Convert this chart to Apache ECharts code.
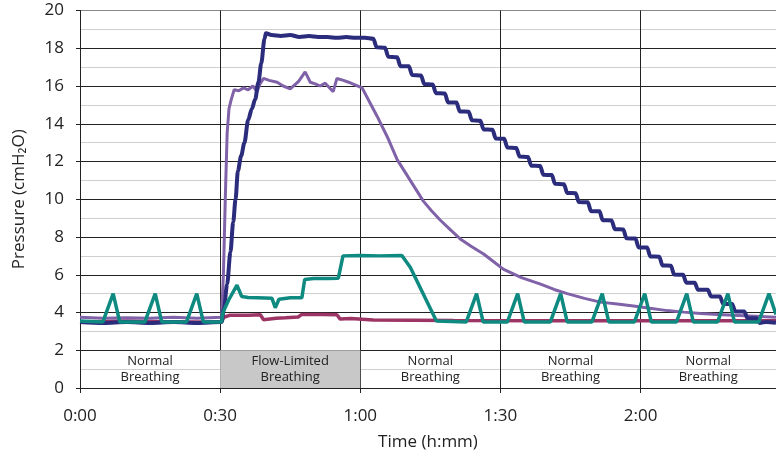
<!DOCTYPE html>
<html>
<head>
<meta charset="utf-8">
<script src="https://cdn.jsdelivr.net/npm/echarts@6/dist/echarts.min.js"></script>
<style>
html,body{margin:0;padding:0;background:#fff;}
#chart{width:776px;height:458px;}
</style>
</head>
<body>
<div id="chart"></div>
<script>
// Time in minutes, pressure in cmH2O
const navyPressure = [
  [0,3.5],[5,3.45],[10,3.5],[15,3.45],[20,3.5],[25,3.45],[30.3,3.5],
  [30.8,4.2],[31.5,5.5],[32.2,7.2],[32.8,8.8],[33.3,10.0],[33.8,11.5],[34.5,12.3],[35.2,13.0],
  [36,14.2],[36.8,14.8],[37.5,15.3],[38.2,16.2],[38.8,17.2],[39.5,18.5],[39.8,18.8],
  [41,18.7],[43,18.65],[45,18.7],[47,18.6],[49,18.65],[51,18.6],[53,18.6],[55,18.55],[57,18.6],[59,18.55],[61,18.55],
  [62.8,18.5],[63.5,18.05],[65.3,18.02],[66.0,17.55],[67.9,17.52],[68.6,17.05],[70.4,17.05],[71.1,16.58],
  [73.0,16.56],[73.7,16.10],[75.5,16.08],[76.2,15.62],[78.1,15.60],[78.8,15.13],[80.6,15.12],[81.3,14.65],
  [83.2,14.64],[83.9,14.18],[85.7,14.16],[86.4,13.70],[88.3,13.68],[89.0,13.22],[90.8,13.20],[91.5,12.74],
  [93.4,12.72],[94.1,12.26],[95.9,12.24],[96.6,11.78],[98.5,11.76],[99.2,11.30],[101.0,11.28],[101.7,10.82],
  [103.6,10.80],[104.3,10.33],[106.1,10.32],[106.8,9.85],[108.7,9.84],[109.4,9.37],[111.2,9.36],[111.9,8.89],
  [113.8,8.88],[114.5,8.41],[116.3,8.40],[117.0,7.93],[118.9,7.92],[119.6,7.45],[121.4,7.44],[122.1,6.97],
  [124.0,6.96],[124.7,6.49],[126.5,6.48],[127.2,6.01],[129.1,6.00],[129.8,5.58],[131.6,5.58],[132.3,5.20],
  [134.4,5.20],[135.1,4.85],[137.0,4.85],[137.7,4.45],[139.6,4.45],[140.3,4.05],[142.2,4.05],[142.9,3.70],
  [144.8,3.70],[145.5,3.45],[147,3.5],[149,3.45]
];
const purplePressure = [
  [0,3.75],[5,3.7],[10,3.72],[15,3.7],[20,3.75],[25,3.7],[30.3,3.75],[30.7,6],[31.1,10],[31.5,13.5],[31.9,14.8],
  [32.4,15.3],[33.0,15.8],[34,15.75],[35,15.9],[36,15.8],[37,16.0],[37.9,15.7],[38.5,16.1],[39.3,16.4],
  [40.5,16.3],[42.2,16.2],[43.5,16.0],[45,15.85],[46.8,16.25],[48.2,16.75],[49.3,16.2],[50.5,16.1],
  [51.4,16.0],[52.5,16.15],[54.2,15.7],[55,16.4],[56.4,16.3],[57.5,16.2],[58.5,16.1],[60.4,15.9],
  [62.1,15.1],[63.6,14.4],[65.8,13.3],[67.9,12.1],[70.7,11.0],[73.5,9.9],[75.2,9.4],[77.1,8.9],[79.2,8.4],
  [81.4,7.9],[83.8,7.5],[86.4,7.1],[88.5,6.7],[90.6,6.3],[94.5,5.85],[98.6,5.5],[101.5,5.22],[104.3,5.0],
  [108,4.75],[111.4,4.55],[115,4.45],[118.5,4.35],[122,4.22],[125.7,4.1],[129.3,4.02],[132.9,3.95],
  [136.5,3.9],[140,3.85],[144.5,3.8],[149,3.75]
];
const tealPressure = [
  [0,3.55],[4.9,3.5],[7.1,5.0],[8.5,3.5],[13.9,3.5],[16.1,5.0],[17.5,3.5],[22.8,3.5],[25.0,5.0],[26.4,3.5],[30.3,3.5],
  [30.6,4.0],[31.8,4.65],[33.6,5.45],[34.6,4.85],[36,4.8],[38,4.78],[41.1,4.75],[41.8,4.25],[42.6,4.7],
  [45,4.78],[47.5,4.78],[48.1,5.75],[50,5.8],[53,5.8],[55.3,5.82],[56.3,7.0],[60,7.02],[64,7.0],[68.9,7.02],
  [70.7,6.4],[76.3,3.55],
  [82.7,3.5],[84.9,5.0],[86.3,3.5],[91.5,3.5],[93.7,5.0],[95.1,3.5],[100.7,3.5],[102.9,5.0],[104.3,3.5],
  [109.6,3.5],[111.8,5.0],[113.2,3.5],[118.7,3.5],[120.9,5.0],[122.3,3.5],[127.7,3.5],[129.9,5.0],[131.3,3.5],
  [136.5,3.5],[138.7,5.0],[140.1,3.5],[145.3,3.5],[147.5,5.0],[149,3.9]
];
const magentaPressure = [
  [0,3.5],[10,3.55],[20,3.5],[30.3,3.5],[30.8,3.75],[32,3.85],[36,3.85],[38.6,3.88],[39.3,3.62],
  [42,3.7],[44,3.72],[46.7,3.76],[47.5,3.9],[52,3.9],[55,3.88],[55.7,3.65],[58,3.68],[62.8,3.6],
  [80,3.57],[100,3.56],[120,3.56],[149,3.56]
];
const phaseLabels = ['Normal\nBreathing','Flow-Limited\nBreathing','Normal\nBreathing','Normal\nBreathing','Normal\nBreathing'];
const phaseStart = [0,30,60,90,120];
const phaseEnd = [30,60,90,120,149];
const phaseShaded = [false,true,false,false,false];

const FONT = 'Open Sans';
const TXT = '#222';

const markAreaData = phaseLabels.map((lab,i)=>[
  {xAxis:phaseStart[i], yAxis:0, name:lab,
   itemStyle:{color: phaseShaded[i] ? '#c8c8c8' : 'rgba(0,0,0,0)'}},
  {xAxis:phaseEnd[i], yAxis:2}
]);

function fmtTime(v){
  const h = Math.floor(v/60), m = Math.round(v%60);
  return h + ':' + (m<10?'0':'') + m;
}

const chart = echarts.init(document.getElementById('chart'), null, {renderer:'canvas'});
chart.setOption({
  animation:false,
  backgroundColor:'#fff',
  textStyle:{fontFamily:FONT},
  grid:{left:80, right:0, top:10.5, bottom:70, containLabel:false, outerBoundsMode:'none'},
  xAxis:{
    type:'value', min:0, max:149, interval:30,
    name:'Time (h:mm)', nameLocation:'middle', nameGap:46,
    nameTextStyle:{fontFamily:FONT, fontSize:17, color:TXT},
    axisLine:{show:true, lineStyle:{color:'#222', width:1}},
    axisTick:{show:true, length:5, lineStyle:{color:'#222'}},
    axisLabel:{formatter:fmtTime, fontFamily:FONT, fontSize:17, color:TXT, margin:20, showMaxLabel:false},
    splitLine:{show:true, lineStyle:{color:'#222', width:1}}
  },
  yAxis:{
    type:'value', min:0, max:20, interval:2,
    name:'Pressure (cmH₂O)', nameLocation:'middle', nameGap:52, nameRotate:90,
    nameTextStyle:{fontFamily:FONT, fontSize:17, color:TXT},
    axisLine:{show:true, lineStyle:{color:'#222', width:1}},
    axisTick:{show:true, length:4, lineStyle:{color:'#222'}},
    axisLabel:{fontFamily:FONT, fontSize:17, color:TXT, margin:16},
    splitLine:{show:true, lineStyle:{color:['#222','#222','#222','#222','#222','#222','#222','#222','#222','#222','#888'], width:1}},
    minorTick:{show:false, splitNumber:2},
    minorSplitLine:{show:true, lineStyle:{color:'#cfcfcf', width:1}}
  },
  series:[
    {
      type:'line', name:'magenta', data:magentaPressure, showSymbol:false,
      lineStyle:{color:'#9c3466', width:3.5}, z:2,
      markArea:{
        silent:true,
        label:{show:true, position:'inside', fontFamily:FONT, fontSize:13, lineHeight:16, color:TXT},
        data:markAreaData
      }
    },
    {type:'line', name:'purple', data:purplePressure, showSymbol:false,
     lineStyle:{color:'#8062a8', width:3}, z:3},
    {type:'line', name:'navy', data:navyPressure, showSymbol:false, smooth:0.3, smoothMonotone:'x',
     lineStyle:{color:'#2b2c7c', width:4}, z:4},
    {type:'line', name:'teal', data:tealPressure, showSymbol:false, lineStyle:{color:'#0e8a80', width:3.5}, z:5}
  ]
});
</script>
</body>
</html>
